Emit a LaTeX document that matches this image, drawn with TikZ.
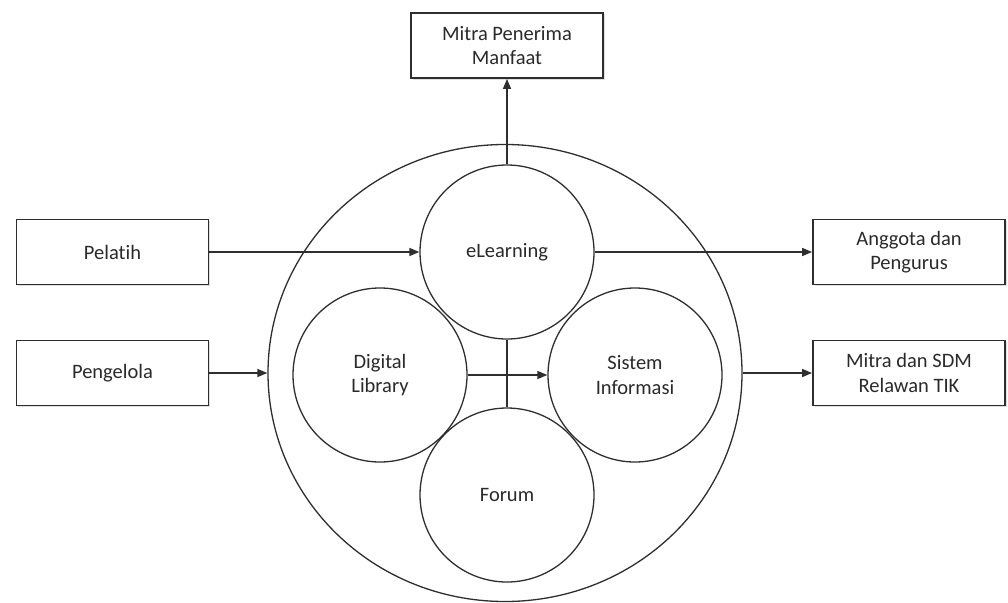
\documentclass[tikz,border=0pt]{standalone}
\usepackage{fontspec}
\setmainfont{Carlito}[Ligatures=NoCommon]
\usetikzlibrary{shapes.geometric,arrows.meta,shadows}
\definecolor{ink}{HTML}{2E2E2E}
\definecolor{txt}{HTML}{2A2A2A}
\begin{document}
\begin{tikzpicture}[x=1pt,y=-1pt,
  every node/.style={font=\fontsize{20.5}{24.5}\selectfont, text=txt, align=center},
  actor/.style={draw=ink, line width=1.8pt, fill=white, rectangle,
    minimum width=192pt, minimum height=65pt, inner sep=0pt,
    drop shadow={shadow xshift=1.5pt, shadow yshift=-1.5pt, opacity=0.25}},
  module/.style={draw=ink, line width=1.3pt, fill=white, circle,
    minimum size=174pt, inner sep=0pt},
  link/.style={draw=ink, line width=1.4pt},
  arrow/.style={link, -{Triangle[length=10pt,width=8pt]}}]
\useasboundingbox (0,0) rectangle (1008,602);

% outer platform
\node[draw=ink, line width=1.3pt, ellipse, minimum width=474pt, minimum height=457pt,
  inner sep=0pt] (platform) at (505,373) {};

% modules
\node[module] (elearn) at (507,252) {eLearning};
\node[module] (dlib) at (380,375) {Digital\\Library};
\node[module] (sisinfo) at (635,375) {Sistem\\Informasi};
\node[module] (forum) at (507,495) {Forum};

% stakeholders
\node[actor] (mitra) at (507,45.5) {Mitra Penerima\\Manfaat};
\node[actor] (pelatih) at (112.5,252) {Pelatih};
\node[actor] (pengelola) at (112.5,373) {Pengelola};
\node[actor] (anggota) at (909,252) {Anggota dan\\Pengurus};
\node[actor] (sdm) at (909,373) {Mitra dan SDM\\Relawan TIK};

% connectors
\draw[arrow] (elearn.north) -- (mitra.south);
\draw[arrow] (pelatih.east) -- (elearn.west);
\draw[arrow] (elearn.east) -- (anggota.west);
\draw[arrow] (pengelola.east) -- (platform.west);
\draw[arrow] (platform.east) -- (sdm.west);
\draw[arrow] (dlib.east) -- (sisinfo.west);
\draw[link] (elearn.south) -- (forum.north);
\end{tikzpicture}
\end{document}
